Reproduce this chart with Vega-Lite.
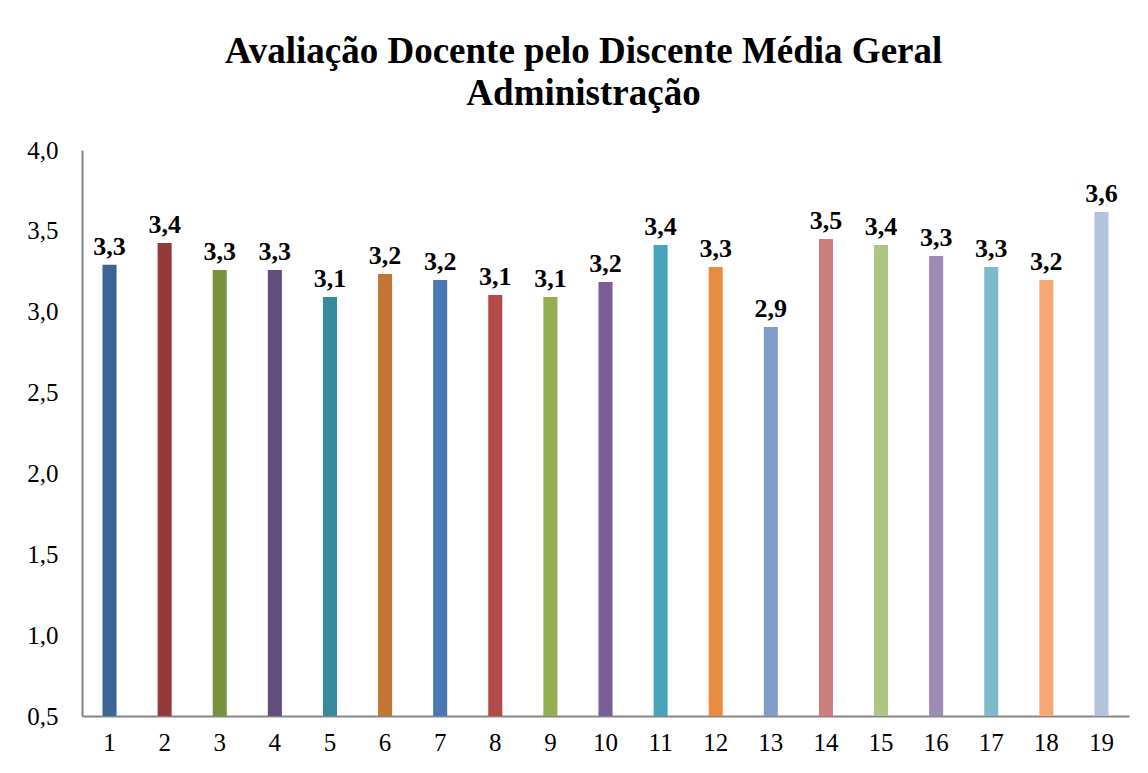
{
  "$schema": "https://vega.github.io/schema/vega-lite/v6.json",
  "width": 1047,
  "height": 566,
  "autosize": {"type": "none"},
  "padding": {"left": 82, "top": 150, "right": 19, "bottom": 57},
  "background": "white",
  "title": {
    "text": ["Avaliação Docente pelo Discente Média Geral", "Administração"],
    "font": "Liberation Serif, Times New Roman, serif",
    "fontSize": 37,
    "fontWeight": "bold",
    "color": "black",
    "lineHeight": 42,
    "anchor": "middle",
    "dx": -22,
    "offset": 25
  },
  "data": {
    "values": [
      {"item": "1", "media": 3.29, "cor": "#3C6494"},
      {"item": "2", "media": 3.425, "cor": "#953A3A"},
      {"item": "3", "media": 3.258, "cor": "#77913F"},
      {"item": "4", "media": 3.258, "cor": "#624D7C"},
      {"item": "5", "media": 3.091, "cor": "#378A9C"},
      {"item": "6", "media": 3.233, "cor": "#C37634"},
      {"item": "7", "media": 3.196, "cor": "#4A77B3"},
      {"item": "8", "media": 3.104, "cor": "#B44A48"},
      {"item": "9", "media": 3.091, "cor": "#93B050"},
      {"item": "10", "media": 3.184, "cor": "#785D96"},
      {"item": "11", "media": 3.413, "cor": "#47A4BB"},
      {"item": "12", "media": 3.277, "cor": "#E98C3F"},
      {"item": "13", "media": 2.906, "cor": "#819DC9"},
      {"item": "14", "media": 3.45, "cor": "#CB7E7D"},
      {"item": "15", "media": 3.413, "cor": "#AEC685"},
      {"item": "16", "media": 3.345, "cor": "#9D8AB4"},
      {"item": "17", "media": 3.277, "cor": "#7DB9CD"},
      {"item": "18", "media": 3.196, "cor": "#F7A872"},
      {"item": "19", "media": 3.617, "cor": "#B4C3DC"}
    ]
  },
  "encoding": {
    "x": {
      "field": "item",
      "type": "ordinal",
      "sort": null,
      "scale": {"paddingInner": 0.745, "paddingOuter": 0.372},
      "axis": {
        "title": null,
        "labelAngle": 0,
        "labelFont": "Liberation Serif, Times New Roman, serif",
        "labelFontSize": 25,
        "labelColor": "black",
        "labelPadding": 14,
        "ticks": false,
        "domainColor": "#868686",
        "domainWidth": 2
      }
    },
    "y": {
      "field": "media",
      "type": "quantitative",
      "scale": {"domain": [0.5, 4.0], "nice": false, "zero": false},
      "axis": {
        "title": null,
        "values": [0.5, 1.0, 1.5, 2.0, 2.5, 3.0, 3.5, 4.0],
        "format": ".1f",
        "grid": false,
        "ticks": false,
        "labelFont": "Liberation Serif, Times New Roman, serif",
        "labelFontSize": 25,
        "labelColor": "black",
        "labelPadding": 24,
        "domainColor": "#868686",
        "domainWidth": 2
      }
    }
  },
  "layer": [
    {
      "mark": {"type": "bar"},
      "encoding": {
        "y2": {"datum": 0.5},
        "color": {"field": "cor", "type": "nominal", "scale": null, "legend": null}
      }
    },
    {
      "mark": {
        "type": "text",
        "font": "Liberation Serif, Times New Roman, serif",
        "fontSize": 26,
        "fontWeight": "bold",
        "color": "black",
        "baseline": "alphabetic",
        "dy": -10
      },
      "encoding": {
        "text": {"field": "media", "type": "quantitative", "format": ".1f"}
      }
    }
  ],
  "config": {
    "view": {"stroke": null},
    "locale": {
      "number": {"decimal": ",", "thousands": ".", "grouping": [3], "currency": ["", ""]}
    }
  }
}
